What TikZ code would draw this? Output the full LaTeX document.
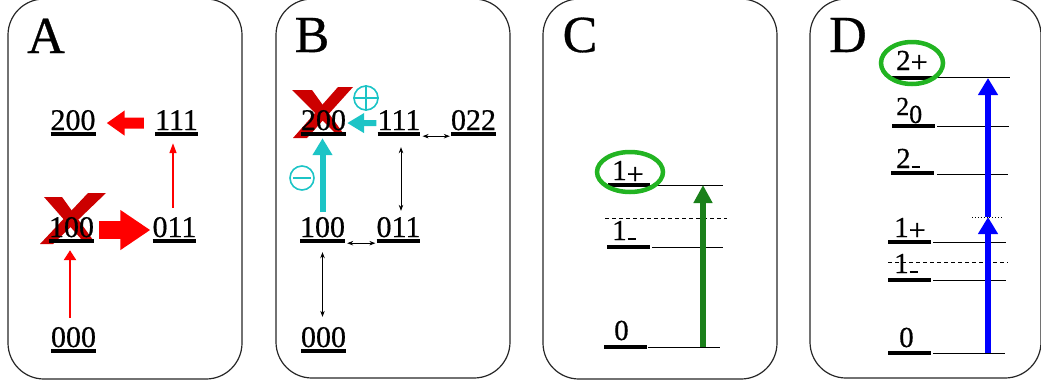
\documentclass[tikz,border=0pt]{standalone}
\usepackage{fontspec}
\setmainfont{Liberation Serif}
\newfontfamily\tnr[FakeBold=0.6]{Liberation Serif}
\usepackage{tikz}
\usetikzlibrary{arrows.meta}
\definecolor{xred}{HTML}{CC0000}
\definecolor{hot}{HTML}{FF0000}
\definecolor{aqua}{HTML}{1CC4C6}
\definecolor{ringgreen}{HTML}{22B422}
\definecolor{stem}{HTML}{1A801A}
\definecolor{pumpblue}{HTML}{0000FF}
% underlined level label, bar as wide as the digits
\newcommand\lv[1]{\setbox0\hbox{#1}\copy0\llap{\rule[-6pt]{\wd0}{4pt}}}
\newcommand\dn[2]{\raisebox{#1}{\fontsize{30}{30}\selectfont#2}}
\newcommand\lowdash{\kern1pt\rule{8pt}{2.5pt}}
\tikzset{
  panel/.style={draw=black!85, line width=1.2pt, rounded corners=36pt},
  tag/.style={font=\tnr\fontsize{52}{52}\selectfont, inner sep=0pt, anchor=base},
  lvl/.style={font=\tnr\fontsize{30}{30}\selectfont, inner sep=0pt, anchor=base},
  lab/.style={font=\tnr\fontsize{29}{29}\selectfont, inner sep=0pt, anchor=base west},
  xmark/.style={fill=xred},
  push/.style={draw=hot, line width=11pt, -{Triangle[length=18pt,width=24pt]}},
  shove/.style={draw=hot, line width=18pt, -{Triangle[length=30pt,width=38pt]}},
  thinred/.style={draw=hot, line width=1.5pt, -{Triangle[length=10pt,width=7pt]}},
  link/.style={draw=black, line width=0.8pt, {Stealth[length=6pt,width=4.5pt]}-{Stealth[length=6pt,width=4.5pt]}},
  lift/.style={draw=aqua, line width=6pt, -{Triangle[length=17pt,width=19pt]}},
  sign/.style={circle, draw=aqua, line width=1.6pt, minimum size=24pt, inner sep=0pt},
  stub/.style={line width=4pt},
  rung/.style={line width=0.9pt},
  gap/.style={line width=0.9pt, dash pattern=on 4pt off 3pt},
  ring/.style={draw=ringgreen, line width=4.5pt},
  climb/.style={draw=stem, line width=6pt, -{Triangle[length=18pt,width=18pt]}},
  pump/.style={draw=pumpblue, line width=6pt, -{Triangle[length=17pt,width=19pt]}},
}

\begin{document}
\begin{tikzpicture}[x=1pt,y=-1pt]
  \useasboundingbox (0,0) rectangle (1041,383);

  % panel A
  \draw[panel] (8,-1) rectangle (242,379);
  \node[tag] (ta) at (46,53) {A};
  \fill[xmark] (40,244) -- (53,244) -- (106,193) -- (88,193) -- cycle;
  \fill[xmark] (44,197) -- (62,197) -- (93,240) -- (82,240) -- cycle;
  \node[lvl] (a200) at (73,130) {\lv{200}};
  \node[lvl] (a111) at (176.5,130) {\lv{111}};
  \node[lvl] (a100) at (71.5,237) {\lv{100}};
  \node[lvl] (a011) at (174.5,237) {\lv{011}};
  \node[lvl] (a000) at (73.5,347) {\lv{000}};
  \draw[push, shorten <=11pt, shorten >=11pt] (a111.west) -- (a200.east);
  \draw[shove, shorten <=5pt, shorten >=2pt] (a100.east) -- (a011.west);
  \draw[thinred, shorten <=9pt, shorten >=7pt] ([xshift=-1.5pt]a011.north) -- ([xshift=-1.5pt]a011.north |- a111.south);
  \draw[thinred, line width=2.5pt, -{Triangle[length=10pt,width=12pt]}, shorten <=9pt, shorten >=7pt]
    ([xshift=-3.5pt]a000.north) -- ([xshift=-3.5pt]a000.north |- a100.south);

  % panel B
  \draw[panel] (276,-1) rectangle (510,378);
  \node[tag] (tb) at (312,52) {B};
  \fill[xmark] (293,138) -- (307,138) -- (353,87) -- (338,87) -- cycle;
  \fill[xmark] (292,90) -- (312,90) -- (343,133) -- (335,133) -- cycle;
  \node[lvl] (b200) at (323.5,130) {\lv{200}};
  \node[lvl] (b111) at (399,130) {\lv{111}};
  \node[lvl] (b022) at (473.5,130) {\lv{022}};
  \node[lvl] (b100) at (322.5,237) {\lv{100}};
  \node[lvl] (b011) at (398.5,237) {\lv{011}};
  \node[lvl] (b000) at (323.5,347) {\lv{000}};
  \draw[link, shorten <=2pt, shorten >=1pt] (b111.south east) -- (b022.south west);
  \draw[link, shorten <=11pt, shorten >=6pt] ([xshift=2pt]b111.south) -- ([xshift=2pt]b111.south |- b011.north);
  \draw[link, shorten <=2pt, shorten >=1pt] (b100.south east) -- (b011.south west);
  \draw[link, shorten <=9pt, shorten >=10pt] (b100.south) -- (b100.south |- b000.north);
  \draw[lift, shorten <=5pt, shorten >=2pt] (b100.north) -- (b100.north |- b200.south);
  \draw[lift, shorten <=1pt, shorten >=1pt] (b111.west) -- (b200.east);
  \node[sign] (bplus) at (366,98) {};
  \draw[aqua, line width=1.6pt] (bplus.north) -- (bplus.south) (bplus.west) -- (bplus.east);
  \node[sign] (bminus) at (302,178) {};
  \draw[aqua, line width=2.5pt] ([xshift=4pt]bminus.west) -- ([xshift=-4pt]bminus.east);

  % panel C
  \draw[panel] (543,-1) rectangle (777,379);
  \node[tag] (tc) at (580,52) {C};
  \draw[stub] (608,185) -- (650,185);
  \draw[rung] (650,185) -- (723,185);
  \node[lab] (c1plus) at (612,180) {1\dn{-4pt}{+}};
  \draw[gap] (605,218) -- (727,218);
  \draw[stub] (607,247) -- (650,247);
  \draw[rung] (652,247) -- (723,247);
  \node[lab] (c1minus) at (612,240) {1\lowdash};
  \draw[stub] (604,347) -- (647,347);
  \draw[rung] (648,347) -- (720,347);
  \node[lab] (czero) at (614,340) {0};
  \draw[ring] (630,172) ellipse [x radius=33, y radius=20];
  \coordinate (cbot) at (703,347);
  \coordinate (ctop) at (703,185);
  \draw[climb] (cbot) -- (ctop);

  % panel D
  \draw[panel] (810,-1) rectangle (1041,378);
  \node[tag] (td) at (848,52) {D};
  \draw[stub] (890,78) -- (933,78);
  \draw[rung] (935,77.5) -- (1010,77.5);
  \node[lab] (d2plus) at (896,70) {2\dn{-2pt}{+}};
  \draw[stub] (892,126) -- (935,126);
  \draw[rung] (937,126.5) -- (1009,126.5);
  \node[lab, font=\tnr\fontsize{26}{26}\selectfont] (d2zero) at (896,115) {2\raisebox{-8pt}{0}};
  \draw[stub] (891,173) -- (934,173);
  \draw[rung] (937,174.5) -- (1008,174.5);
  \node[lab] (d2minus) at (896,168) {2\lowdash};
  \draw[stub] (888,242) -- (931,242);
  \draw[rung] (933,242) -- (1006,242);
  \node[lab] (d1plus) at (894,237) {1\dn{-3pt}{+}};
  \draw[stub] (888,280) -- (931,280);
  \draw[rung] (933,280) -- (1006,280);
  \node[lab] (d1minus) at (894,273) {1\lowdash};
  \draw[gap] (888,262) -- (1008,262);
  \draw[stub] (888,353) -- (931,353);
  \draw[rung] (933,353) -- (1005,353);
  \node[lab] (dzero) at (899,347) {0};
  \draw[ring] (912,63) ellipse [x radius=31, y radius=21];
  \coordinate (dbot) at (988,353);
  \coordinate (dmid) at (988,217);
  \coordinate (dtop) at (988,78);
  \draw[pump] (dbot) -- (dmid);
  \draw[pump] (dmid) -- (dtop);
  \draw[dotted, line width=0.9pt] (972,217) -- (1003,217);
\end{tikzpicture}
\end{document}
